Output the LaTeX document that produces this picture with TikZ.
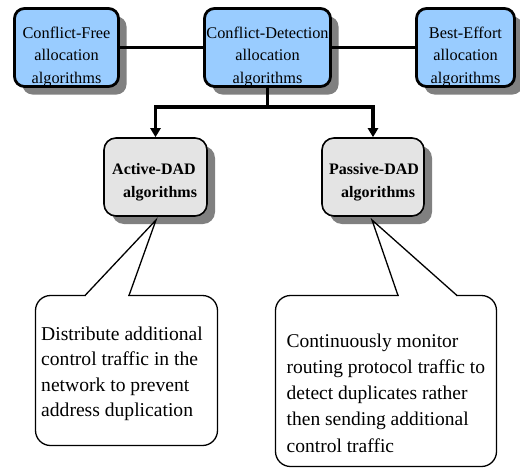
\documentclass[tikz,border=0pt]{standalone}
\usepackage{fontspec}
\setmainfont{Liberation Serif}
\usetikzlibrary{arrows.meta,shadows,calc}
\definecolor{boxblue}{HTML}{99CCFF}
\definecolor{boxgray}{HTML}{E4E4E4}
\definecolor{shade}{HTML}{808080}
\tikzset{
  shadowed/.style={drop shadow={shadow xshift=8pt,shadow yshift=-8pt,fill=shade,opacity=1}},
  topbox/.style={draw,line width=2.8pt,fill=boxblue,rounded corners=10pt,shadowed,inner sep=0pt,minimum height=78pt},
  dadbox/.style={draw,line width=1.6pt,fill=boxgray,rounded corners=12pt,shadowed,inner sep=0pt,minimum height=78pt},
  notebox/.style={draw,line width=1.3pt,fill=white,rounded corners=15pt,inner sep=0pt},
  toptext/.style={align=center,inner sep=0pt,font=\fontsize{16.3}{22.5}\selectfont},
  dadtext/.style={align=left,inner sep=0pt,anchor=west,font=\fontsize{16}{23}\selectfont\bfseries},
  notetext/.style={align=left,inner sep=0pt,anchor=north west},
  link/.style={line width=2.3pt},
  branch/.style={line width=3.2pt},
  branchhead/.style={-{Triangle[length=9pt,width=10pt]}},
  pointer/.style={line width=1.3pt,line join=miter}
}
\begin{document}
\begin{tikzpicture}[x=1pt,y=-1pt]
\useasboundingbox (0,0) rectangle (520,469);

% top row: allocation families
\node[topbox,minimum width=104pt] (cf) at (66.5,47.5) {};
\node[topbox,minimum width=126pt] (cd) at (267.5,47.5) {};
\node[topbox,minimum width=98pt] (be) at (465.5,47.5) {};
\node[toptext] (cf-t) at (66.5,57) {Conflict-Free\\allocation\\algorithms};
\node[toptext] (cd-t) at (267.5,57) {Conflict-Detection\\allocation\\algorithms};
\node[toptext] (be-t) at (465.5,57) {Best-Effort\\allocation\\algorithms};

\draw[link] (cf.east) -- (cd.west);
\draw[link] (cd.east) -- (be.west);

% DAD variants
\node[dadbox,minimum width=103pt] (act) at (155.5,177) {};
\node[dadbox,minimum width=102pt] (pas) at (373,177) {};
\node[dadtext] (act-t) at (112,182.5) {Active-DAD\\\hspace*{11pt}algorithms};
\node[dadtext] (pas-t) at (329,182.5) {Passive-DAD\\\hspace*{12pt}algorithms};

\coordinate (split) at (267.5,107);
\draw[branch] (cd.south) -- (split);
\draw[branch,branchhead] (split) -| (act.north);
\draw[branch,branchhead] (split) -| (pas.north);

% explanatory callouts
\node[notebox,minimum width=182pt,minimum height=150pt] (c1) at (126.5,370.5) {};
\node[notebox,minimum width=221pt,minimum height=171pt] (c2) at (386,381) {};

\coordinate (p1) at (156,220);
\coordinate (p1a) at (85,295.5);
\coordinate (p1b) at (129,295.5);
\coordinate (p2) at (372,220);
\coordinate (p2a) at (398,295.5);
\coordinate (p2b) at (457,295.5);

\fill[white] ($(p1a)+(0.6,-1.5)$) rectangle ($(p1b)+(-0.6,1.5)$);
\fill[white] ($(p2a)+(0.6,-1.5)$) rectangle ($(p2b)+(-0.6,1.5)$);
\draw[pointer] (p1a) -- (p1) -- (p1b);
\draw[pointer] (p2a) -- (p2) -- (p2b);

\node[notetext,font=\fontsize{19.6}{25.5}\selectfont] (c1-t) at (41,326.5)
  {Distribute additional\\control traffic in the\\network to prevent\\address duplication};
\node[notetext,font=\fontsize{19.5}{26.2}\selectfont] (c2-t) at (286.5,333.5)
  {Continuously monitor\\routing protocol traffic to\\detect duplicates rather\\then sending additional\\control traffic};
\end{tikzpicture}
\end{document}
